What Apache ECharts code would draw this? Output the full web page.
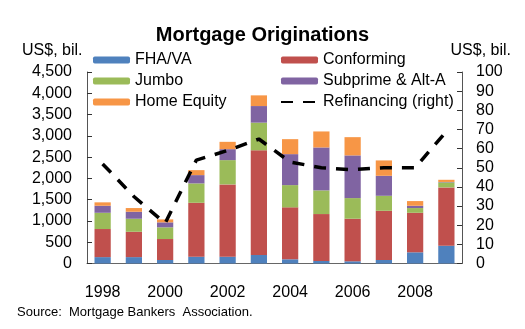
<!DOCTYPE html>
<html><head><meta charset="utf-8">
<script src="https://cdn.jsdelivr.net/npm/echarts@6/dist/echarts.min.js"></script>
<style>html,body{margin:0;padding:0;background:#fff}#c{width:525px;height:329px}</style>
</head><body><div id="c"></div>
<script>
const years = ['1998','1999','2000','2001','2002','2003','2004','2005','2006','2007','2008','2009'];
const fhaVa = [150,150,82,160,160,200,99,59,52,82,263,418];
const conforming = [660,596,493,1267,1699,2460,1220,1103,1000,1157,929,1370];
const jumbo = [382,306,275,455,570,650,523,556,485,352,111,118];
const subprime = [165,164,117,195,258,390,728,1009,1003,470,54,10];
const homeEquity = [80,87,70,117,172,251,352,376,429,361,110,51];
const refinancing = [52,35,21,54,59,65,53,50,49,50,50,69];
const leftTicks = [0,500,1000,1500,2000,2500,3000,3500,4000,4500];

const font = '"Liberation Sans", Arial, sans-serif';
const colors = {fha:'#4F81BD', conf:'#C0504D', jumbo:'#9BBB59', sub:'#8064A2', he:'#F79646'};
const chart = echarts.init(document.getElementById('c'), null, {renderer:'canvas'});
function bar(name, data, color){
  return {name, type:'bar', stack:'t', data, barWidth:'52%', yAxisIndex:0,
    itemStyle:{color}, emphasis:{disabled:true}};
}
chart.setOption({
  animation:false,
  textStyle:{fontFamily:font},
  title:{text:'Mortgage Originations', left:'center', top:20,
    textStyle:{fontFamily:font, fontWeight:'bold', fontSize:20, color:'#000'}},
  graphic:[
    {type:'text', left:22, top:43, style:{text:'US$, bil.', font:'16px '+font, fill:'#000'}},
    {type:'text', right:14, top:43, style:{text:'US$, bil.', font:'16px '+font, fill:'#000'}},
    {type:'text', left:17, top:306, style:{text:'Source:  Mortgage Bankers  Association.', font:'13px '+font, fill:'#000'}}
  ],
  legend:[
    {orient:'vertical', left:93, top:52, padding:0, itemGap:5, itemWidth:37, itemHeight:7, itemTextGap:5,
      data:['FHA/VA','Jumbo','Home Equity'], textStyle:{fontFamily:font, fontSize:16, color:'#000'}},
    {orient:'vertical', left:280, top:52, padding:0, itemGap:5, itemWidth:37, itemHeight:7, itemTextGap:6,
      data:['Conforming','Subprime & Alt-A',{name:'Refinancing (right)', itemStyle:{opacity:0}}],
      textStyle:{fontFamily:font, fontSize:16, color:'#000'}}
  ],
  grid:{left:87, right:63, top:72, bottom:65.5},
  xAxis:{type:'category', data:years, boundaryGap:true,
    axisLine:{lineStyle:{color:'#666'}},
    axisTick:{inside:true, length:3, interval:0, lineStyle:{color:'#666'}},
    axisLabel:{interval:1, margin:21, fontSize:16, color:'#000', fontFamily:font}},
  yAxis:[
    {type:'value', min:0, max:4500, interval:500, splitLine:{show:false},
      axisLine:{show:true, lineStyle:{color:'#555'}},
      axisTick:{show:true, inside:true, length:5, lineStyle:{color:'#333'}},
      axisLabel:{margin:15, fontSize:16, color:'#000', fontFamily:font,
        formatter:v=>leftTicks.includes(v)?v.toLocaleString('en-US'):''}},
    {type:'value', min:0, max:100, interval:10, splitLine:{show:false}, position:'right',
      axisLine:{show:true, lineStyle:{color:'#555'}},
      axisTick:{show:true, inside:true, length:5, lineStyle:{color:'#333'}},
      axisLabel:{margin:14, fontSize:16, color:'#000', fontFamily:font}}
  ],
  series:[
    bar('FHA/VA', fhaVa, colors.fha),
    bar('Conforming', conforming, colors.conf),
    bar('Jumbo', jumbo, colors.jumbo),
    bar('Subprime & Alt-A', subprime, colors.sub),
    bar('Home Equity', homeEquity, colors.he),
    {name:'Refinancing (right)', type:'line', yAxisIndex:1, data:refinancing, symbol:'none',
      lineStyle:{color:'#000', width:3.5, type:[12,10]}, itemStyle:{color:'#000'}, z:5}
  ]
});
</script></body></html>
